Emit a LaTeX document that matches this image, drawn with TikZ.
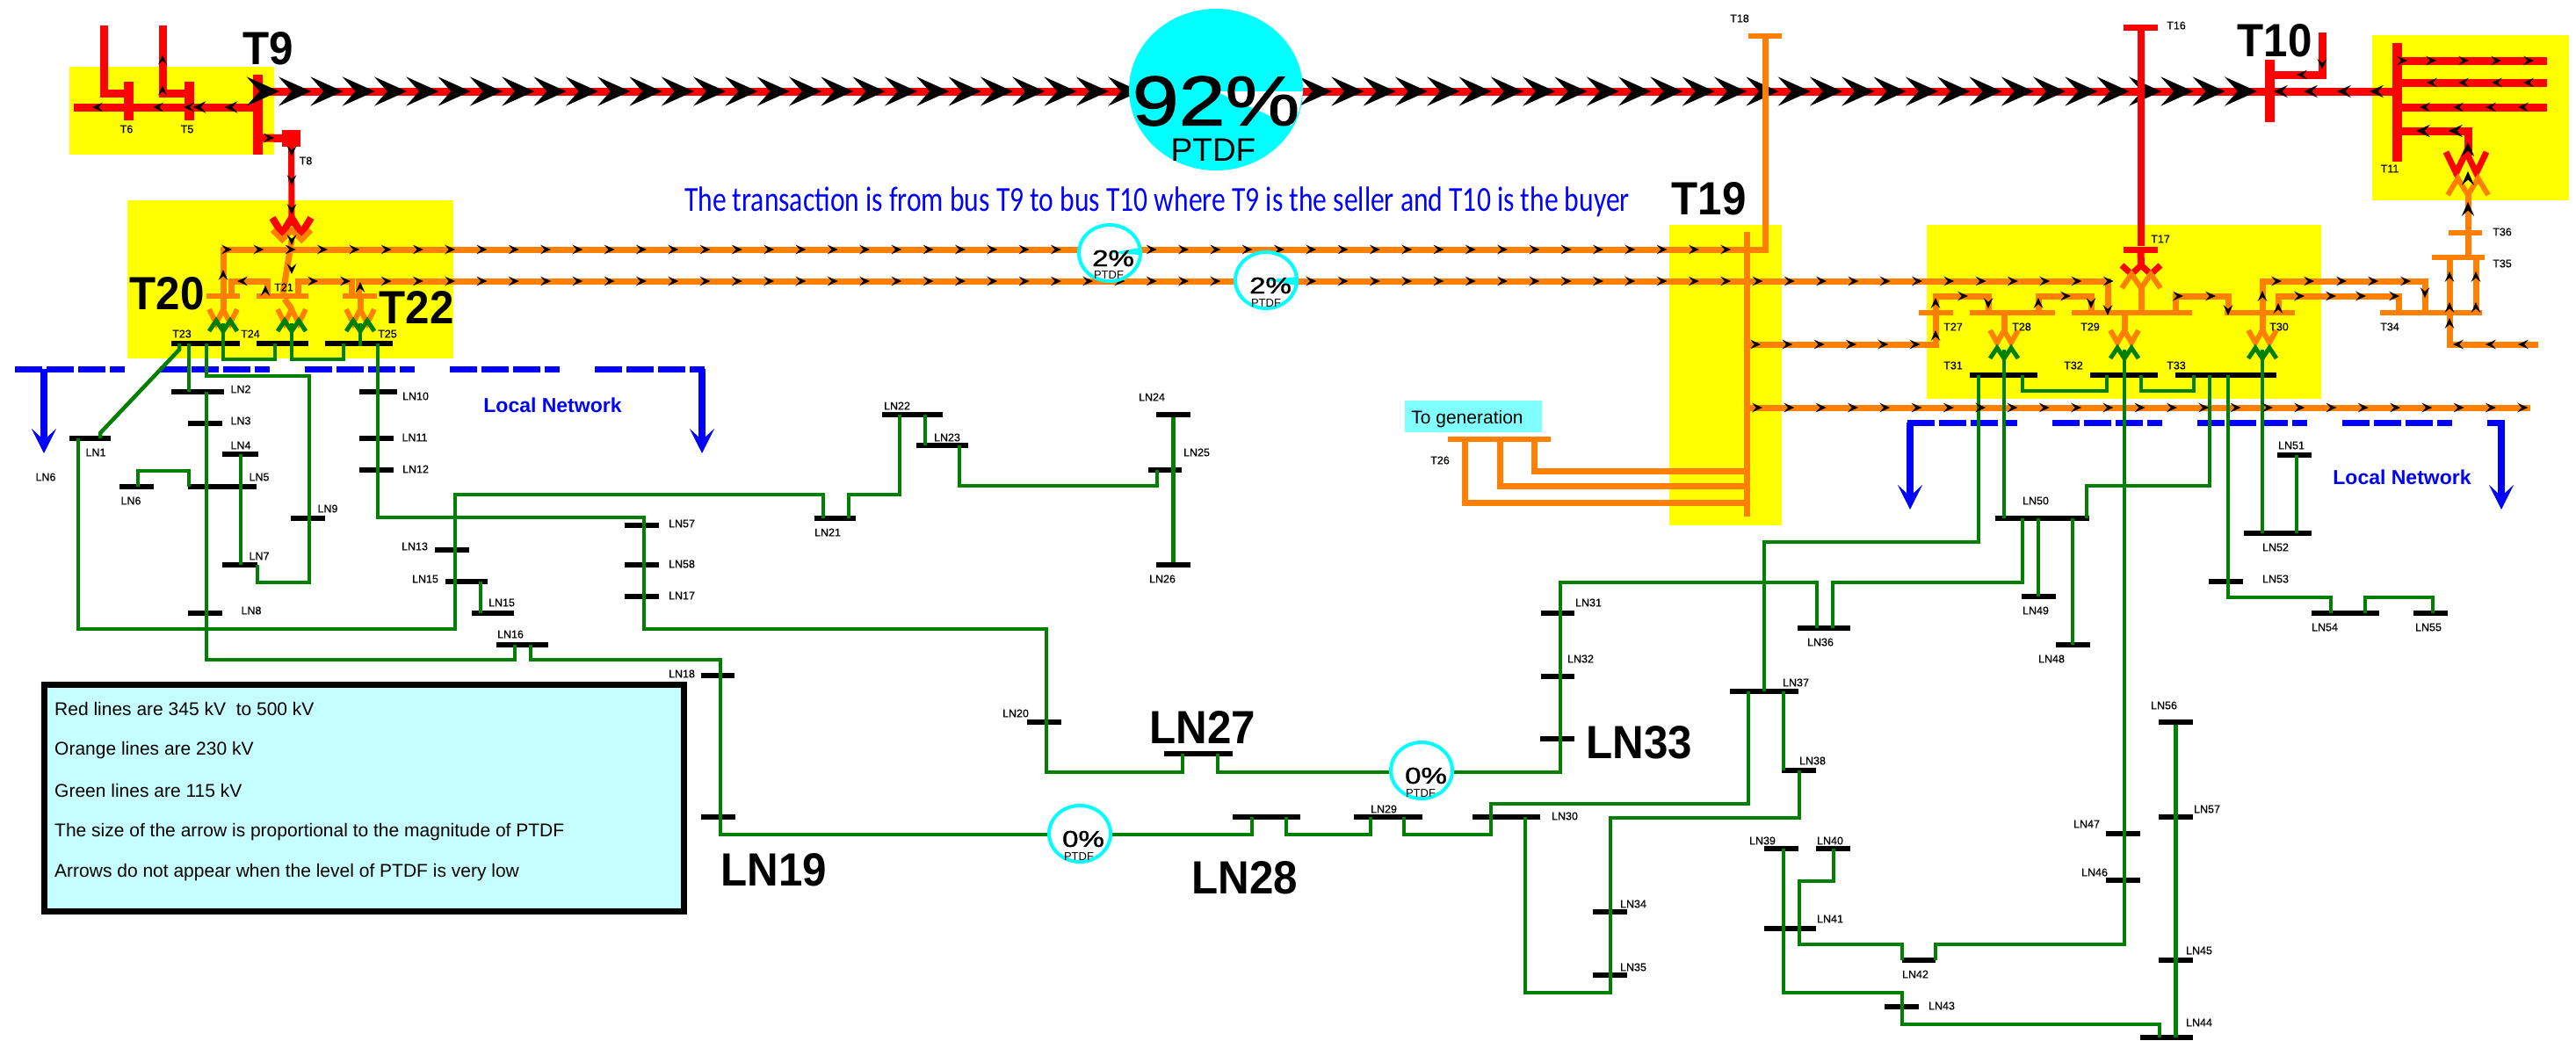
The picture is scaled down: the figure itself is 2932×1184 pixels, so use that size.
\documentclass[tikz,border=0pt]{standalone}
\usepackage{fontspec}
\usetikzlibrary{arrows.meta,shapes.geometric}
\setmainfont{Liberation Sans}
\newfontfamily\carlito{Carlito}
\newfontfamily\labsans[FakeBold=0.4]{Liberation Sans}
\newfontfamily\pctsans[FakeBold=1.2]{Liberation Sans}
\definecolor{linered}{HTML}{FF0000}
\definecolor{lineorange}{HTML}{FF8000}
\definecolor{linegreen}{HTML}{008000}
\definecolor{netblue}{HTML}{0000FF}
\definecolor{piecyan}{HTML}{00FFFF}
\definecolor{zoneyellow}{HTML}{FFFF00}
\definecolor{legendcyan}{HTML}{C6FFFF}
\definecolor{gencyan}{HTML}{80FFFF}
\newcommand{\chev}[4]{\fill[black,shift={(#1,#2)},rotate=#3,scale=#4] (-0.5,-0.45) -- (0.5,0) -- (-0.5,0.45) -- (-0.1,0) -- cycle;}
\begin{document}
\begin{tikzpicture}[x=1pt,y=-1pt]
	\tikzstyle{every node}+=[inner sep=0pt]
	\tikzstyle{redline}=[linered,line width=9pt]
	\tikzstyle{orline}=[lineorange,line width=7pt]
	\tikzstyle{grline}=[linegreen,line width=4.5pt]
	\tikzstyle{redbus}=[fill=linered,rectangle]
	\tikzstyle{orbus}=[fill=lineorange,rectangle]
	\tikzstyle{blkbus}=[fill=black,rectangle]
	\tikzstyle{netdash}=[netblue,line width=7pt,dash pattern=on 31pt off 5pt on 31pt off 5pt on 31pt off 5pt on 17pt off 40pt]
	\tikzstyle{netarrow}=[netblue,line width=8pt,-{Stealth[length=28pt,width=28pt,inset=13pt]}]
	\tikzstyle{buslbl}=[font=\fontsize{12.5}{14}\labsans]
	\tikzstyle{biglbl}=[font=\fontsize{53}{55}\selectfont\bfseries]
	\tikzstyle{netlbl}=[font=\fontsize{23}{25}\selectfont\bfseries,text=netblue]
	\tikzstyle{legendtxt}=[font=\fontsize{21}{23}\selectfont,anchor=west]
	\tikzstyle{ring}=[ellipse,draw=piecyan,fill=white,line width=4pt,minimum width=70pt,minimum height=64pt]
	\tikzstyle{pcttxt}=[font=\fontsize{26}{28}\pctsans]
	\tikzstyle{ptdftxt}=[font=\fontsize{13}{14}\selectfont]

	\useasboundingbox (0,0) rectangle (2932,1184);
	\fill[white] (0,0) rectangle (2932,1184);

	\foreach \xa/\ya/\xb/\yb in {79/76/312/176,145/228/516/408,1900/256/2028/598,2193/256/2642/454,2700/40/2924/228}
		\fill[zoneyellow] (\xa,\ya) rectangle (\xb,\yb);

	\foreach \nm/\xa/\ya/\xb/\yb in {T6/140.5/93/151.5/137,T5/209.5/93/220.5/137,T9/287.5/85/298.5/176,T8/321/148/342/167,T10/2577.5/68/2588.5/139,T11/2722.5/49/2733.5/184,T16/2417/27.5/2456/34.5,T17/2417/280.5/2456/287.5}
		\node[redbus,minimum width={\xb-\xa},minimum height={\yb-\ya}] (\nm) at ({(\xa+\xb)/2},{(\ya+\yb)/2}) {};
	\foreach \nm/\xa/\ya/\xb/\yb in {T18/1990/38/2028/44,T19/1984.5/264/1991.5/588,T20/235/334/273/340,T21/292/334/351/340,T22/390/334/429/340,T26/1648/497/1765/503,T27/2184/353/2223/359,T28/2242/353/2339/359,T29/2358/353/2495/359,T30/2532/353/2612/359,T34/2709/353/2825/359,T35/2768/290/2828/296,T36/2787/262/2825/268}
		\node[orbus,minimum width={\xb-\xa},minimum height={\yb-\ya}] (\nm) at ({(\xa+\xb)/2},{(\ya+\yb)/2}) {};
	\foreach \nm/\xa/\xb/\yy in {T23/195/273/391,T24/292/351/391,T25/370/447/391,T31/2242/2319/427,T32/2379/2456/427,T33/2476/2591/427,LN1/79/126/499,LN2/195/255/446,LN3/214/253/482,LN4/253/294/517,LN5/214/292/554,LN6/136/175/554,LN7/253/293/643,LN8/214/253/698,LN9/331/370/590,LN10/409/452/446,LN11/409/448/499,LN12/409/448/535,LN13/495/534/626,LN15/507/555/662,LN15b/537/585/698,LN16/565/624/734,LN17/711/750/679,LN18/798/836/769,LN19/798/837/930,LN20/1169/1208/822,LN21/927/974/590,LN22/1004/1073/472,LN23/1043/1102/507,LN24/1316/1355/472,LN25/1307/1345/535,LN26/1316/1355/643,LN27/1325/1403/858,LN28/1403/1480/930,LN29/1541/1619/930,LN30/1676/1753/930,LN31/1754/1792/698,LN32/1754/1792/770,LN33/1753/1792/841,LN34/1813/1852/1038,LN35/1813/1852/1110,LN36/2046/2106/715,LN37/1969/2047/787,LN38/2028/2067/877,LN39/2008/2047/966,LN40/2067/2106/966,LN41/2008/2067/1057,LN42/2165/2203/1093,LN43/2145/2184/1146,LN44/2436/2496/1181,LN45/2457/2496/1093,LN46/2397/2436/1002,LN47/2397/2436/949,LN48/2340/2379/734,LN49/2301/2340/679,LN50/2271/2378/590,LN51/2592/2631/518,LN52/2554/2631/607,LN53/2514/2553/662,LN54/2631/2708/698,LN55/2747/2786/698,LN56/2457/2496/822,LN57/711/750/598,LN57b/2457/2496/930,LN58/711/750/643}
		\node[blkbus,minimum width={\xb-\xa},minimum height=5.5pt] (\nm) at ({(\xa+\xb)/2},\yy) {};

	\draw[netdash] (17,420) -- (803,420);
	\draw[netdash] (2171,481) -- (2851,481);
	\foreach \nm/\xx/\ya/\yb in {netA/50/420/516,netB/799/420/516,netC/2174/481/580,netD/2847/481/580}{
		\coordinate (\nm) at (\xx,\yb);
		\draw[netarrow] (\xx,\ya) -- (\nm);
	}

	\draw[redline] (T9 |- 0,104) -- (T11 |- 0,104);
	\draw[redline] (118,29) |- (T6 |- 0,106);
	\draw[redline] (185,29) |- (T5 |- 0,106);
	\draw[redline] (T9 |- 0,122) -- (84,122);
	\draw[redline] (T9 |- 0,157) -- (T8);
	\draw[redline,line width=7pt] (T8) -- (332,257);
	\draw[redline] (T10 |- 0,85) -| (2643,37);
	\draw[redline] (T11 |- 0,69) -- (2899,69);
	\draw[redline] (T11 |- 0,94) -- (2899,94);
	\draw[redline] (T11 |- 0,122) -- (2899,122);
	\draw[redline] (T11 |- 0,149) -| (2809,177);

	\foreach \k in {-1,...,61}{
		\chev{{317+18.5+\k*36.31}}{104}{0}{37}
	}

	\draw[redline,line width=8pt] (T16) -- (T17);
	\draw[redline,line width=8pt] (T17) -- (2437,305);
	\draw[orline] (T18) |- (T19 |- 0,284);
	\draw[orline] (254,0 |- T20) |- (T19 |- 0,284);
	\draw[orline] (408,0 |- T22) |- (2399,320) -- (2399,0 |- T29);
	\draw[orline] (263,0 |- T20) |- (304,320) -- (304,0 |- T21);
	\draw[orline] (339,0 |- T21) |- (400,320) -- (400,0 |- T22);
	\draw[orline] (332,273) -- (T21);
	\draw[orline] (254,0 |- T20) -- (254,352);
	\draw[orline] (T21) -- (332,352);
	\draw[orline] (410,0 |- T22) -- (410,352);
	\draw[orline] (T19 |- 0,392) -| (2203,337) -| (2263,0 |- T28);
	\draw[orline] (T19 |- 0,464) -- (2880,464);
	\draw[orline] (1667,0 |- T26) |- (T19.east |- 0,572);
	\draw[orline] (1707,0 |- T26) |- (T19.east |- 0,553);
	\draw[orline] (1746,0 |- T26) |- (T19.east |- 0,536);
	\draw[orline] (2320,0 |- T28) |- (2380,337) -- (2380,0 |- T29);
	\draw[orline] (2476,0 |- T29) |- (2536,337) -- (2536,0 |- T30);
	\draw[orline] (2575,0 |- T30) |- (2760,320) -- (2760,0 |- T34);
	\draw[orline] (2593,0 |- T30) |- (2730,337) -- (2730,0 |- T34);
	\draw[orline] (2788,0 |- T35) |- (2889,392);
	\draw[orline] (2818,0 |- T35) -- (2818,0 |- T34);
	\draw[orline] (2809,0 |- T35) -- (2809,220);
	\draw[orline] (2437,328) -- (2437,0 |- T29);
	\draw[orline] (2281,0 |- T28) -- (2281,376);
	\draw[orline] (2418,0 |- T29) -- (2418,376);
	\draw[orline] (2575,0 |- T30) -- (2575,376);

	\foreach \cx/\ya/\yb/\hw/\col/\lw in {332/248/266/22/linered/8,332/262/273/22/lineorange/6,2437/302/312/22/linered/7,2437/328/312/22/lineorange/6,2807/173/197/23/linered/7,2809/222/203/23/lineorange/6,254/352/368/16/lineorange/6,332/352/368/16/lineorange/6,410/352/368/16/lineorange/6,254/377/365/16/linegreen/5,332/377/365/16/linegreen/5,410/377/365/16/linegreen/5,2281/376/390/16/lineorange/6,2418/376/390/16/lineorange/6,2575/376/390/16/lineorange/6,2281/408/396/16/linegreen/5,2418/408/396/16/linegreen/5,2575/408/396/16/linegreen/5}
		\draw[\col,line width=\lw pt] ({\cx-\hw},\ya) -- ({\cx-\hw/2},\yb) -- (\cx,\ya) -- ({\cx+\hw/2},\yb) -- ({\cx+\hw},\ya);

	\draw[grline] (204,0 |- T23) -- (204,398) -- (114,493) -- (114,0 |- LN1);
	\draw[grline] (215,0 |- T23) -- (215,0 |- LN2);
	\draw[grline] (235,0 |- T23) |- (352,428) |- (293,663) -- (293,0 |- LN7);
	\draw[grline] (235,0 |- LN2) |- (586,751) -- (586,0 |- LN16);
	\draw[grline] (274,0 |- LN4) -- (274,0 |- LN7);
	\draw[grline] (157,0 |- LN6) |- (215,536) -- (215,0 |- LN5);
	\draw[grline] (89,0 |- LN1) |- (518,716) |- (937,563) -- (937,0 |- LN21);
	\draw[grline] (966,0 |- LN21) |- (1024,563) -- (1024,0 |- LN22);
	\draw[grline] (1053,0 |- LN22) -- (1053,0 |- LN23);
	\draw[grline] (1092,0 |- LN23) |- (1317,553) -- (1317,0 |- LN25);
	\draw[grline] (LN24) -- (LN26);
	\draw[grline] (430,0 |- T25) |- (733,589) |- (1191,716) |- (1346,879) -- (1346,0 |- LN27);
	\draw[grline] (547,0 |- LN15) -- (547,0 |- LN15b);
	\draw[grline] (604,0 |- LN16) |- (820,751) |- (1425,950) -- (1425,0 |- LN28);
	\draw[grline] (1464,0 |- LN28) |- (1560,950) -- (1560,0 |- LN29);
	\draw[grline] (1598,0 |- LN29) |- (1697,950) |- (1990,915) -- (1990,0 |- LN37);
	\draw[grline] (1386,0 |- LN27) |- (1776,879) |- (2068,663) -- (2068,0 |- LN36);
	\draw[grline] (1736,0 |- LN30) |- (1833,1130) |- (2048,931) -- (2048,0 |- LN38);
	\draw[grline] (2030,0 |- LN37) -- (2030,0 |- LN38);
	\draw[grline] (2008,0 |- LN37) |- (2252,617) -- (2252,0 |- T31);
	\draw[grline] (2086,0 |- LN36) |- (2302,663) -- (2302,0 |- LN50);
	\draw[grline] (2281,398) -- (2281,0 |- LN50);
	\draw[grline] (2302,0 |- T31) |- (2398,445) -- (2398,0 |- T32);
	\draw[grline] (2437,0 |- T32) |- (2497,445) -- (2497,0 |- T33);
	\draw[grline] (2515,0 |- T33) |- (2375,553) -- (2375,0 |- LN50);
	\draw[grline] (2536,0 |- T33) |- (2653,680) -- (2653,0 |- LN54);
	\draw[grline] (2575,398) -- (2575,0 |- LN52);
	\draw[grline] (2614,0 |- LN51) -- (2614,0 |- LN52);
	\draw[grline] (2692,0 |- LN54) |- (2769,680) -- (2769,0 |- LN55);
	\draw[grline] (2320,0 |- LN50) -- (2320,0 |- LN49);
	\draw[grline] (2359,0 |- LN50) -- (2359,0 |- LN48);
	\draw[grline] (2418,398) |- (2203,1075) -- (2203,0 |- LN42);
	\draw[grline] (2087,0 |- LN40) |- (2048,1003) |- (2165,1075) -- (2165,0 |- LN42);
	\draw[grline] (2030,0 |- LN39) |- (2165,1130) |- (2458,1166) -- (2458,0 |- LN44);
	\draw[grline] (LN56) -- (LN56 |- LN44);
	\draw[grline] (254,368) |- (313,409) -- (313,0 |- T24);
	\draw[grline] (332,368) |- (391,409) -- (391,0 |- T25);
	\draw[grline] (410,368) -- (410,394);

	\foreach \k in {0,...,47}{
		\chev{{258+\k*36.3}}{284}{0}{12}
	}
	\foreach \k in {5,...,59}{
		\chev{{258+\k*36.3}}{320}{0}{12}
	}
	\foreach \k in {0,...,5}{
		\chev{{1998+\k*36.3}}{392}{0}{12}
	}
	\foreach \k in {0,...,24}{
		\chev{{2000+\k*36.3}}{464}{0}{12}
	}
	\foreach \xx/\yy/\ang/\sz in {185/68/90/11,185/103/90/11,111/122/180/12,180/122/180/12,215/122/180/12,227/122/180/15,263/122/180/15,306/157/0/12,332/172/270/12,332/205/270/12,332/238/270/12,332/273/270/12,332/306/270/12,254/313/90/12,302/331/90/12,276/320/180/12,356/320/0/12,393/320/0/12,410/327/90/12,2596/104/180/16,2630/104/180/16,2668/104/180/16,2705/104/180/16,2643/73/270/12,2620/85/180/12,2591/320/0/12,2628/320/0/12,2665/320/0/12,2701/320/0/12,2738/320/0/12,2760/333/270/12,2617/337/0/12,2653/337/0/12,2687/337/0/12,2725/337/0/12,2593/351/90/12,2575/337/90/12,2203/345/90/12,2203/382/90/12,2234/337/0/12,2263/345/270/12,2320/345/90/12,2351/337/0/12,2380/345/270/12,2399/353/270/12,2479/337/0/12,2516/337/0/12,2536/353/270/12,2788/315/90/12,2818/315/90/12,2788/350/90/12,2818/350/90/12,2788/368/90/12,2798/392/180/12,2835/392/180/12,2872/392/180/12,2809/238/90/16,2809/203/90/16,2809/170/90/16,2758/149/180/16,2795/149/180/16,2734/69/0/12,2767/69/0/12,2804/69/0/12,2841/69/0/12,2878/69/0/12,2768/94/180/12,2804/94/180/12,2842/94/180/12,2878/94/180/12,2760/122/180/12,2798/122/180/12,2835/122/180/12,2872/122/180/12}{
		\chev{\xx}{\yy}{\ang}{\sz}
	}

	\node[ellipse,fill=piecyan,minimum width=198pt,minimum height=184pt] (pieA) at (1384,102) {};
	\fill[white] (pieA.center |- 0,104) -- (1483,104) -- (1479,125) -- (1470,143) -- cycle;
	\node[font=\fontsize{80}{82}\pctsans] (pctA) at (1384,115) {\scalebox{1.19}[1]{92\%}};
	\node[font=\fontsize{37}{39}\selectfont] (ptdfA) at (1381,171) {PTDF};

	\node[ring] (pieB) at (1263,288) {};
	\fill[piecyan] (pieB.center) -- (1298,282) -- (1298,290) -- cycle;
	\node[ring] (pieC) at (1441,319) {};
	\fill[piecyan] (pieC.center) -- (1476,315) -- (1476,325) -- cycle;
	\node[ring] (pieD) at (1618,877) {};
	\node[ring] (pieE) at (1229,949) {};
	\foreach \txt/\xa/\ya/\xb/\yb in {2/1267/294/1262/313,2/1446/325/1441/345,0/1623/883/1617/903,0/1233/955/1228/975}{
		\node[pcttxt] at (\xa,\ya) {\scalebox{1.27}[1]{\txt\%}};
		\node[ptdftxt] at (\xb,\yb) {PTDF};
	}

	\node[font=\fontsize{40}{42}\selectfont\carlito,text=netblue] (title) at (1317,230) {\scalebox{.79}[1]{The transaction is from bus T9 to bus T10 where T9 is the seller and T10 is the buyer}};
	\node[fill=gencyan,minimum width=156pt,minimum height=36pt] (togen) at (1677,474) {};
	\node[font=\fontsize{21}{23}\selectfont] (togentxt) at (1670,477) {To generation};
	\node[netlbl] (localA) at (629,461) {Local Network};
	\node[netlbl] (localB) at (2734,543) {Local Network};

	\node[rectangle,draw=black,fill=legendcyan,line width=7pt,minimum width=728pt,minimum height=258pt] (legend) at (414.5,908) {};
	\foreach \txt/\ly [count=\n] in {Red lines are 345 kV \ to 500 kV/807,Orange lines are 230 kV/854,Green lines are 115 kV/900,The size of the arrow is proportional to the magnitude of PTDF/947,Arrows do not appear when the level of PTDF is very low/993}
		\node[legendtxt] (legend\n) at (62,\ly) {\txt};

	\foreach \txt/\lx/\ly [count=\n] in {T6/144/147,T5/213/147,T8/348/183,T21/323/327,T23/207/380,T24/285/380,T25/441/380,T16/2477/29,T17/2459/272,T18/1980/21,T26/1639/524,T27/2223/372,T28/2301/372,T29/2379/372,T30/2594/372,T34/2720/372,T35/2848/300,T36/2848/264,T11/2720/192,T31/2223/416,T32/2360/416,T33/2477/416,LN1/109/515,LN2/274/443,LN3/274/479,LN4/274/507,LN5/295/543,LN6/149/570,LN6/52/543,LN7/295/633,LN8/286/695,LN9/373/579,LN10/473/451,LN11/472/498,LN12/473/534,LN13/472/622,LN15/484/659,LN15/571/686,LN16/581/722,LN57/776/596,LN58/776/642,LN17/776/678,LN18/776/767,LN20/1156/812,LN21/942/606,LN22/1021/462,LN23/1078/498,LN24/1311/452,LN25/1362/515,LN26/1323/659,LN29/1575/921,LN30/1781/929,LN31/1808/686,LN32/1799/750,LN34/1859/1029,LN35/1859/1101,LN36/2072/731,LN37/2044/777,LN38/2063/866,LN39/2006/957,LN40/2083/957,LN41/2083/1046,LN42/2180/1109,LN43/2210/1145,LN44/2503/1164,LN45/2503/1082,LN46/2384/993,LN47/2375/938,LN48/2335/750,LN49/2317/695,LN50/2317/570,LN51/2608/507,LN52/2590/623,LN53/2590/659,LN54/2646/714,LN55/2764/714,LN56/2463/803,LN57/2512/921}
		\node[buslbl] (lab\n) at (\lx,\ly) {\txt};
	\foreach \txt/\lx/\ly [count=\n] in {T9/305/55,T10/2589/46,T19/1945/226,T20/190/334,T22/474/350,LN19/881/990,LN27/1369/828,LN28/1417/999,LN33/1866/845}
		\node[biglbl] (big\n) at (\lx,\ly) {\scalebox{.93}[1]{\txt}};
\end{tikzpicture}
\end{document}
